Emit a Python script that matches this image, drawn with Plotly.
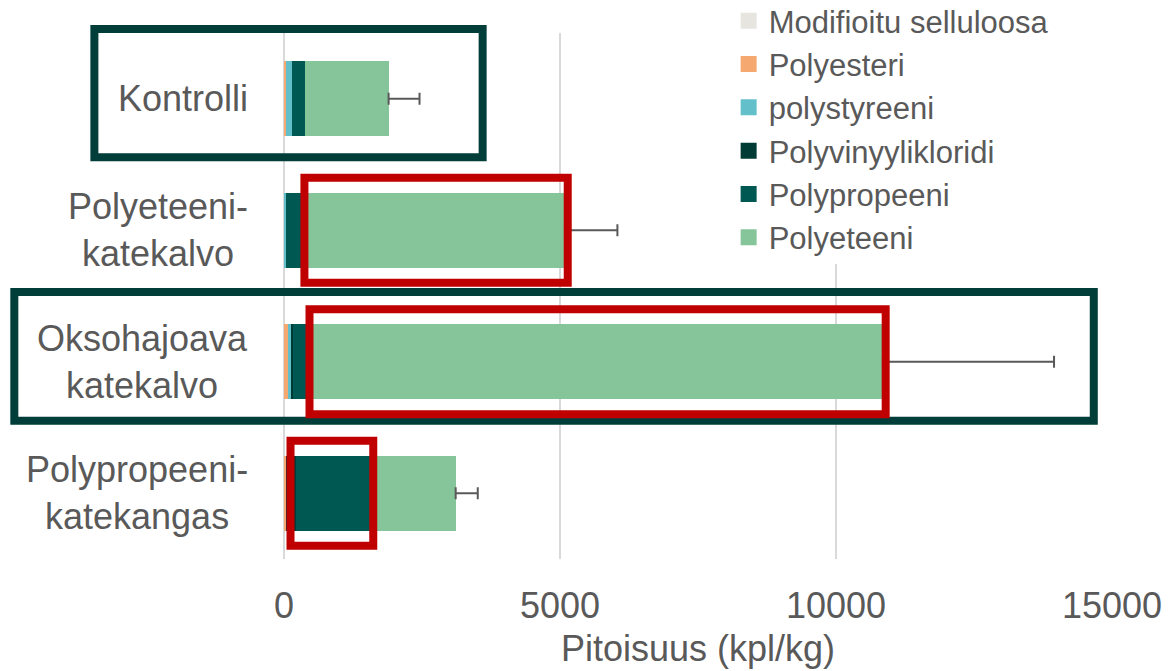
import plotly.graph_objects as go

# ---- data ----
categories = ["Kontrolli", "Polyeteeni-\nkatekalvo", "Oksohajoava\nkatekalvo", "Polypropeeni-\nkatekangas"]
series_names = ["Modifioitu selluloosa", "Polyesteri", "polystyreeni",
                "Polyvinyylikloridi", "Polypropeeni", "Polyeteeni"]
modifioitu_selluloosa = [0, 0, 0, 0]
polyesteri = [40, 0, 70, 30]
polystyreeni = [110, 40, 60, 0]
polyvinyylikloridi = [0, 0, 25, 190]
polypropeeni = [225, 270, 300, 1360]
polyeteeni = [1520, 4780, 10395, 1530]
error_plus = [560, 950, 3100, 400]
x_ticks = [0, 5000, 10000, 15000]

series_values = [modifioitu_selluloosa, polyesteri, polystyreeni,
                 polyvinyylikloridi, polypropeeni, polyeteeni]
colors = ["#E6E5E0", "#F5A86F", "#63C0CB", "#013B36", "#005853", "#86C499"]

TEXT = "#595959"
FONT = "Arial, Liberation Sans, sans-serif"
DARK = "#013E3A"
RED = "#C00000"

cat_keys = [c.replace("\n", " ") for c in categories]
totals = [sum(v[i] for v in series_values) for i in range(len(categories))]

fig = go.Figure()
for name, vals, col in zip(series_names, series_values, colors):
    fig.add_trace(go.Bar(
        x=vals, y=cat_keys, name=name, orientation="h", legendgroup=name,
        marker=dict(color=col, line=dict(width=0)), showlegend=False,
    ))
# legend entries with larger square swatches
for name, col in zip(series_names, colors):
    fig.add_trace(go.Scatter(
        x=[None], y=[None], mode="markers", name=name, legendgroup=name,
        marker=dict(symbol="square", size=19, color=col, line=dict(width=0)),
        showlegend=True, hoverinfo="skip",
    ))

fig.add_trace(go.Scatter(
    x=totals, y=cat_keys, mode="markers",
    marker=dict(size=1, color="rgba(0,0,0,0)"),
    error_x=dict(type="data", array=error_plus, arrayminus=[0] * len(categories),
                 symmetric=False, color=TEXT, thickness=2, width=6),
    showlegend=False, hoverinfo="skip",
))

# category labels (centered lines, right-aligned block)
for key, lab in zip(cat_keys, categories):
    fig.add_annotation(
        x=-0.0405, xref="paper", y=key, yref="y",
        text=lab.replace("\n", "<br>"), showarrow=False,
        xanchor="right", yanchor="middle", align="center",
        font=dict(family=FONT, size=36, color=TEXT),
    )

# highlight boxes: dark frames around whole rows, red frames around segments
frames_dark = [(-0.229, 1.0076, 0.2399, 0.764), (-0.3257, 0.5076, 0.978, 0.263)]
for x0, y0, x1, y1 in frames_dark:
    fig.add_shape(type="rect", xref="paper", yref="paper",
                  x0=x0, y0=y0, x1=x1, y1=y1,
                  line=dict(color=DARK, width=8), fillcolor="rgba(0,0,0,0)")

frames_red = [(370, 1, 5140), (462, 2, 10900), (118, 3, 1617)]
for x0, yi, x1 in frames_red:
    fig.add_shape(type="rect", xref="x", yref="y",
                  x0=x0, x1=x1, y0=yi - 0.4, y1=yi + 0.4,
                  line=dict(color=RED, width=8), fillcolor="rgba(0,0,0,0)")

fig.update_layout(
    width=1169, height=671,
    margin=dict(l=284, r=57, t=33, b=112, autoexpand=False),
    barmode="stack", bargap=0.433,
    paper_bgcolor="white", plot_bgcolor="white",
    font=dict(family=FONT, color=TEXT, size=36),
    showlegend=True,
    legend=dict(
        x=0.537, y=1.074, xanchor="left", yanchor="top",
        traceorder="normal", bgcolor="white",
        font=dict(family=FONT, size=31, color=TEXT),
        itemclick=False, itemdoubleclick=False,
    ),
    xaxis=dict(
        range=[0, 15000], tickvals=x_ticks, ticktext=[str(t) for t in x_ticks],
        showgrid=True, gridcolor="#D9D9D9", gridwidth=1.5,
        zeroline=True, zerolinecolor="#D9D9D9", zerolinewidth=1.5,
        showline=False, ticks="",
        tickfont=dict(family=FONT, size=36, color=TEXT),
        ticklabelstandoff=22,
        title=dict(text="Pitoisuus (kpl/kg)", standoff=10,
                   font=dict(family=FONT, size=36, color=TEXT)),
    ),
    yaxis=dict(
        categoryorder="array", categoryarray=cat_keys, autorange="reversed",
        showticklabels=False, showgrid=False, zeroline=False, showline=False, ticks="",
    ),
)

fig.write_html("out.html", config={"displayModeBar": False},
               post_script="document.body.style.margin='0px';document.body.style.overflow='hidden';")
